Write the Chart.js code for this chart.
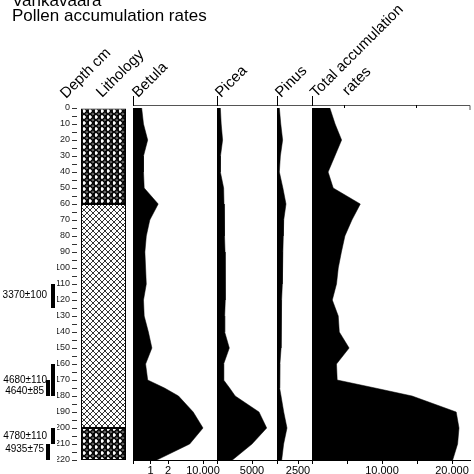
<!DOCTYPE html>
<html>
<head>
<meta charset="utf-8">
<script src="https://cdn.jsdelivr.net/npm/chart.js@4"></script>
<style>
  html, body { margin: 0; padding: 0; background: #fff; }
  #wrap { position: relative; width: 474px; height: 474px; overflow: hidden; }
  canvas { position: absolute; }
</style>
</head>
<body>
<div id="wrap">
  <canvas id="base" style="left:0;top:0" width="474" height="474"></canvas>
  <canvas id="betula"></canvas>
  <canvas id="picea"></canvas>
  <canvas id="pinus"></canvas>
  <canvas id="total"></canvas>
</div>
<script>
// Depths (cm) and accumulation rates (grains cm-2 yr-1)
const depths = [0, 10, 20, 30, 40, 50, 60, 70, 80, 90, 100, 110, 120, 130, 140, 150, 160, 170, 175, 180, 190, 200, 210, 220];
const betula = [1240, 1500, 2100, 1500, 1500, 1600, 3600, 2400, 1900, 1700, 1800, 1900, 1500, 1600, 2200, 2700, 1800, 2100, 4500, 6500, 8600, 10000, 8100, 3400];
const picea = [480, 600, 800, 500, 480, 950, 1000, 1050, 1100, 1150, 1200, 1200, 1150, 1100, 1100, 1760, 950, 950, 1800, 2600, 6000, 7100, 5000, 2200];
const pinus = [280, 450, 670, 400, 280, 700, 1070, 800, 750, 700, 670, 600, 550, 500, 480, 480, 350, 280, 350, 480, 800, 1190, 790, 560];
const total = [2550, 3300, 4230, 3270, 2300, 3030, 6900, 5700, 4700, 4200, 3750, 3500, 2900, 3750, 3900, 5300, 3500, 3600, 9000, 14300, 20600, 21000, 20800, 20100];

// Lithology units [top, bottom, type]
const lithoUnits = [[0, 60, "dense"], [60, 200, "open"], [200, 220, "dense"]];

// Radiocarbon dates: label, top, bottom, column
const dates = [
  ["3370±100", 110, 125, 0],
  ["4680±110", 160, 180, 0],
  ["4640±85", 170, 180, 1],
  ["4780±110", 200, 210, 0],
  ["4935±75", 210, 220, 1]
];
const dateTextDepth = [117, 170, 177, 205, 213];

const FONT = "Arial, 'Liberation Sans', sans-serif";
Chart.defaults.font.family = FONT;
Chart.defaults.animation = false;

const TOP = 108, BOTTOM = 460;

function hatch(dense) {
  const c = document.createElement("canvas");
  c.width = c.height = 6;
  const g = c.getContext("2d");
  g.fillStyle = "#fff"; g.fillRect(0, 0, 6, 6);
  g.strokeStyle = "#000"; g.lineWidth = dense ? 1.2 : 0.8;
  g.beginPath();
  g.moveTo(0, 0); g.lineTo(6, 6);
  g.moveTo(6, 0); g.lineTo(0, 6);
  g.stroke();
  if (dense) {
    g.beginPath(); g.arc(3, 0, 1.3, 0, Math.PI * 2); g.arc(3, 6, 1.3, 0, Math.PI * 2); g.stroke();
  }
  return g.createPattern(c, "repeat");
}

const basePlugin = {
  id: "frame",
  afterDraw(chart) {
    const ctx = chart.ctx, y = chart.scales.y;
    ctx.save();
    // title
    ctx.fillStyle = "#000";
    ctx.font = "17px " + FONT;
    ctx.textBaseline = "alphabetic";
    ctx.fillText("Vahkavaara", 12, 6);
    ctx.fillText("Pollen accumulation rates", 12, 21);
    // top frame line
    ctx.strokeStyle = "#555"; ctx.lineWidth = 1;
    ctx.beginPath(); ctx.moveTo(133, 105.5); ctx.lineTo(470, 105.5); ctx.lineTo(470, 110); ctx.stroke();
    ctx.strokeStyle = "#000";
    [133, 217, 277, 312].forEach(x => { ctx.beginPath(); ctx.moveTo(x + 0.5, 96); ctx.lineTo(x + 0.5, 106); ctx.stroke(); });
    [344, 416].forEach(x => { ctx.beginPath(); ctx.moveTo(x + 0.5, 105); ctx.lineTo(x + 0.5, 108); ctx.stroke(); });
    // rotated headers
    ctx.font = "15px " + FONT;
    const heads = [["Depth cm", 66, 99], ["Lithology", 102, 98], ["Betula", 138, 98], ["Picea", 221, 98], ["Pinus", 281, 98], ["Total accumulation", 316, 98], ["rates", 348, 96]];
    heads.forEach(([t, x, yy]) => {
      ctx.save(); ctx.translate(x, yy); ctx.rotate(-Math.PI / 4); ctx.fillText(t, 0, 0); ctx.restore();
    });
    // radiocarbon dates
    ctx.font = "10px " + FONT;
    ctx.textAlign = "right"; ctx.textBaseline = "middle";
    dates.forEach(([label, d0, d1, col], i) => {
      const bx = col === 0 ? 51 : 46;
      const y0 = y.getPixelForValue(d0), y1 = y.getPixelForValue(d1);
      ctx.fillRect(bx, y0, 4, y1 - y0);
      ctx.fillText(label, col === 0 ? 47 : 44, y.getPixelForValue(dateTextDepth[i]));
    });
    ctx.restore();
  }
};

new Chart(document.getElementById("base"), {
  type: "bar",
  data: {
    labels: ["lith"],
    datasets: lithoUnits.map(u => ({
      data: [[u[0], u[1]]],
      backgroundColor: hatch(u[2] === "dense"),
      borderColor: "#000",
      borderWidth: 1,
      borderSkipped: false,
      barPercentage: 45 / 53,
      categoryPercentage: 1,
      grouped: false
    }))
  },
  options: {
    responsive: false,
    layout: { padding: { left: 57, right: 344, top: TOP, bottom: 474 - BOTTOM } },
    plugins: { legend: { display: false }, tooltip: { enabled: false } },
    scales: {
      x: { display: false },
      y: {
        min: 0, max: 220, reverse: true,
        afterFit: s => { s.width = 20; },
        afterBuildTicks: s => { s.ticks = []; for (let v = 0; v <= 220; v += 5) s.ticks.push({ value: v }); },
        ticks: { autoSkip: false, padding: 2, color: "#222", font: { size: 9 }, callback: v => v % 10 === 0 ? v : "" },
        grid: { drawOnChartArea: false, tickLength: 5, color: "#333" },
        border: { display: false }
      }
    }
  },
  plugins: [basePlugin]
});

const leftLine = {
  id: "leftLine",
  afterDraw(chart) {
    const a = chart.chartArea, ctx = chart.ctx;
    ctx.save(); ctx.strokeStyle = "#000"; ctx.lineWidth = 1.2;
    ctx.beginPath(); ctx.moveTo(a.left + 0.6, a.top - 3); ctx.lineTo(a.left + 0.6, a.bottom); ctx.stroke();
    ctx.restore();
  }
};

function panel(id, left, width, pxPer1000, values, ticks, labels) {
  const cv = document.getElementById(id);
  cv.width = width + 20; cv.height = BOTTOM - TOP + 16;
  cv.style.left = left + "px"; cv.style.top = TOP + "px";
  new Chart(cv, {
    type: "line",
    data: {
      datasets: [{
        data: depths.map((d, i) => ({ x: values[i], y: d })),
        backgroundColor: "#000", borderColor: "#000", borderWidth: 0.5,
        pointRadius: 0, fill: "origin", tension: 0
      }]
    },
    options: {
      responsive: false, indexAxis: "y",
      layout: { padding: { left: 0, right: 20, top: 0, bottom: 0 } },
      plugins: { legend: { display: false }, tooltip: { enabled: false } },
      scales: {
        y: { type: "linear", display: false, min: 0, max: 220, reverse: true },
        x: {
          type: "linear", min: 0, max: width / pxPer1000 * 1000,
          afterFit: s => { s.height = 16; },
          afterBuildTicks: s => { s.ticks = ticks.map(v => ({ value: v })); },
          ticks: { autoSkip: false, maxRotation: 0, padding: 0, color: "#000", font: { size: 11 },
            callback: (v, i) => labels[i] },
          grid: { drawOnChartArea: false, tickLength: 4, color: "#000" },
          border: { color: "#000", width: 1 }
        }
      }
    },
    plugins: [leftLine]
  });
}

panel("betula", 133, 84, 7, betula, [0, 2500, 5000, 10000], ["", "1", "2", "10,000"]);
panel("picea", 217, 60, 7, picea, [0, 5000], ["", "5000"]);
panel("pinus", 277, 35, 8.4, pinus, [0, 2500], ["", "2500"]);
panel("total", 312, 158, 7, total, [0, 5000, 10000, 15000, 20000], ["", "", "10,000", "", "20,000"]);
</script>
</body>
</html>
